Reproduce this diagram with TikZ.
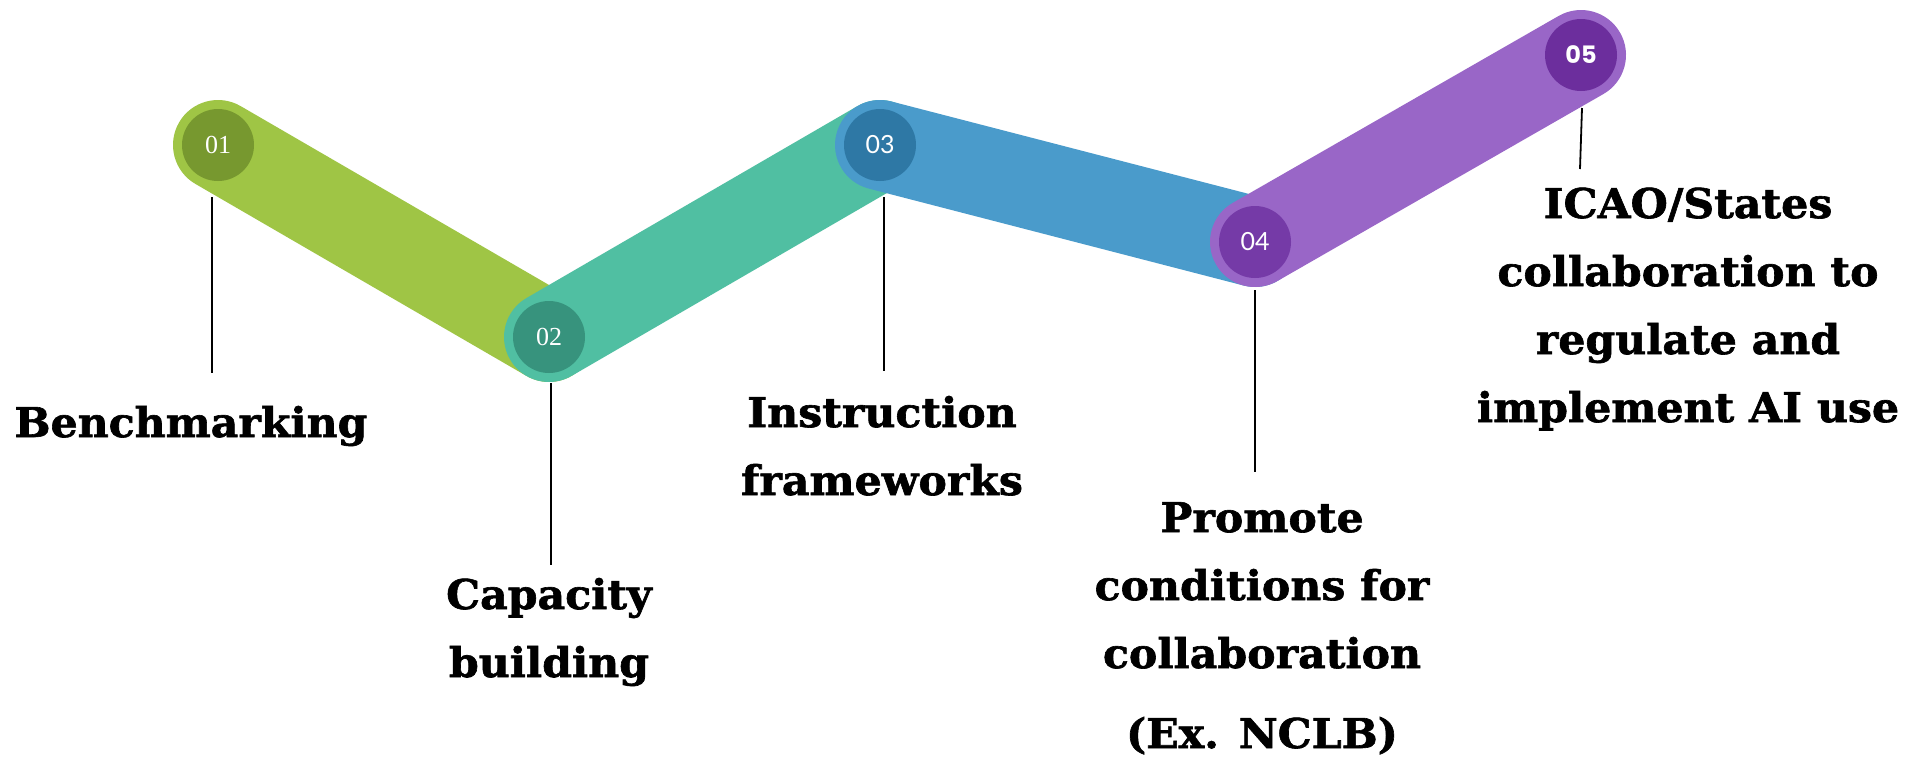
\documentclass[tikz,border=0pt]{standalone}
\usepackage{fontspec}
\usepackage{xcolor}
\usepackage{tikz}
\usetikzlibrary{positioning}

\newfontfamily\lblfont{DejaVu Serif}[BoldFeatures={FakeStretch=1.04, FakeBold=1.5}]
\newfontfamily\numserif{Liberation Serif}
\newfontfamily\numsans{Lato}
\newfontfamily\numbold{Poppins}

\definecolor{barGreen}{HTML}{9FC545}
\definecolor{dotGreen}{HTML}{77982F}
\definecolor{barTeal}{HTML}{50BFA2}
\definecolor{dotTeal}{HTML}{37937D}
\definecolor{barBlue}{HTML}{4A9BCB}
\definecolor{dotBlue}{HTML}{2E78A5}
\definecolor{barPurple}{HTML}{9966C7}
\definecolor{dotPurple}{HTML}{753AA7}
\definecolor{dotPlum}{HTML}{6C2E9D}

\tikzset{
  bar/.style={line width=90pt, line cap=round},
  dot/.style={circle, inner sep=0pt, minimum size=72pt, text=white},
  stem/.style={draw=black, line width=1.8pt},
  lbl/.style={anchor=base, align=center, inner sep=0pt,
    font=\lblfont\bfseries\fontsize{41}{68}\selectfont},
}

\begin{document}
\begin{tikzpicture}[x=1pt, y=-1pt]
  \fill[white] (0,0) rectangle (1923,764);
  \useasboundingbox (0,0) rectangle (1923,764);
  % path points
  \coordinate (p1) at (218,145);
  \coordinate (p2) at (549,337);
  \coordinate (p3) at (880,145);
  \coordinate (p4) at (1255,242);
  \coordinate (p5) at (1581,55);
  % bars
  \draw[bar, barGreen] (p1) -- (p2);
  \draw[bar, barTeal] (p2) -- (p3);
  \draw[bar, barBlue] (p3) -- (p4);
  \draw[bar, barPurple] (p4) -- (p5);
  % numbered dots
  \node[dot, fill=dotGreen, font=\numserif\fontsize{26}{26}\selectfont] (n1) at (p1) {01};
  \node[dot, fill=dotTeal, font=\numserif\fontsize{26}{26}\selectfont] (n2) at (p2) {02};
  \node[dot, fill=dotBlue, font=\numsans\fontsize{25}{25}\selectfont] (n3) at (p3) {03};
  \node[dot, fill=dotPurple, font=\numsans\fontsize{25}{25}\selectfont] (n4) at (p4) {04};
  \node[dot, fill=dotPlum, font=\numbold\bfseries\fontsize{24}{24}\selectfont] (n5) at (p5) {05};
  % stems
  \coordinate (a1) at (212,197);  \coordinate (b1) at (212,373);
  \coordinate (a2) at (551,383);  \coordinate (b2) at (551,565);
  \coordinate (a3) at (884,197);  \coordinate (b3) at (884,371);
  \coordinate (a4) at (1255,290); \coordinate (b4) at (1255,472);
  \coordinate (a5) at (1582,108); \coordinate (b5) at (1580,169);
  \foreach \i in {1,...,5} \draw[stem] (a\i) -- (b\i);
  % labels (anchored at the last baseline)
  \node[lbl] (t1) at (191,437) {Benchmarking};
  \node[lbl] (t2) at (549,677) {Capacity\\building};
  \node[lbl] (t3) at (882,495) {Instruction\\frameworks};
  \node[lbl] (t4) at (1262,748) {Promote\\conditions for\\collaboration\\[12pt](Ex. NCLB)};
  \node[lbl] (t5) at (1688,422) {ICAO/States\\collaboration to\\regulate and\\implement AI use};
\end{tikzpicture}
\end{document}
